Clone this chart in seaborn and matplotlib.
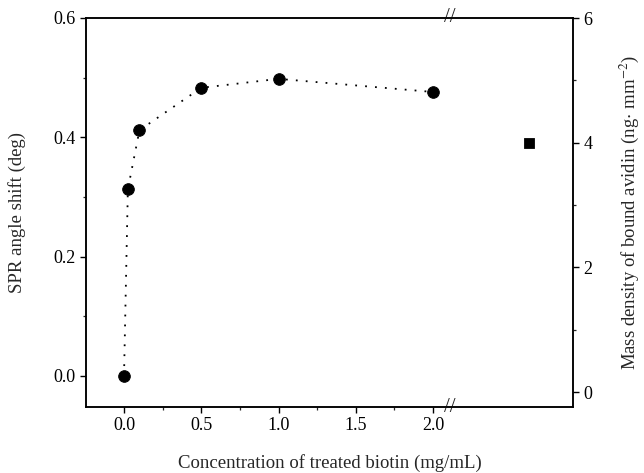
import numpy as np
import pandas as pd
import matplotlib
matplotlib.use("Agg")
import matplotlib.pyplot as plt
import matplotlib.transforms as mtransforms
from matplotlib.ticker import MultipleLocator, FixedLocator
import seaborn as sns

# data
conc = [0.0, 0.025, 0.1, 0.5, 1.0, 2.0]
spr_shift = [0.0, 0.313, 0.412, 0.483, 0.498, 0.476]
square_x = [2.62]
square_mass = [4.0]

x_ticks = [0.0, 0.5, 1.0, 1.5, 2.0]
x_labels = ["0.0", "0.5", "1.0", "1.5", "2.0"]
left_ticks = [0.0, 0.2, 0.4, 0.6]
left_labels = ["0.0", "0.2", "0.4", "0.6"]
right_ticks = [0, 2, 4, 6]

sns.set_style("ticks")
plt.rcParams['font.family'] = ['Liberation Serif', 'DejaVu Serif']
plt.rcParams['mathtext.fontset'] = 'stix'

df = pd.DataFrame({"conc": conc, "shift": spr_shift})
df_sq = pd.DataFrame({"x": square_x, "mass": square_mass})

fig, ax = plt.subplots(figsize=(6.44, 4.73), dpi=100)
fig.subplots_adjust(left=86/644, right=573/644, top=1-18/473, bottom=1-407/473)

sns.lineplot(data=df, x="conc", y="shift", ax=ax, color="black",
             linestyle=(0, (1, 4.5)), linewidth=1.3, sort=False)
sns.scatterplot(data=df, x="conc", y="shift", ax=ax, color="black",
                s=70, edgecolor="black", zorder=5)

ax.set_xlim(-0.246, 2.906)
ax.set_ylim(-0.052, 0.6)
ax.set_xticks(x_ticks)
ax.set_xticklabels(x_labels)
ax.xaxis.set_minor_locator(FixedLocator([0.25, 0.75, 1.25, 1.75]))
ax.set_yticks(left_ticks)
ax.set_yticklabels(left_labels)
ax.yaxis.set_minor_locator(MultipleLocator(0.1))

ax2 = ax.twinx()
sns.scatterplot(data=df_sq, x="x", y="mass", ax=ax2, color="black",
                marker="s", s=55, edgecolor="black")
ax2.set_ylim(-0.24, 6)
ax2.set_yticks(right_ticks)
ax2.yaxis.set_minor_locator(MultipleLocator(1))

for a in (ax, ax2):
    for s in a.spines.values():
        s.set_visible(True)
        s.set_linewidth(1.1)
        s.set_color("black")
    a.tick_params(which="major", direction="out", length=4, width=1, labelsize=13, colors="black")
    a.tick_params(which="minor", direction="out", length=2.5, width=0.9)

ax.tick_params(axis="x", which="both", top=False)
ax.tick_params(axis="y", which="both", right=False)
ax2.tick_params(axis="y", which="both", left=False)

ax.set_xlabel("Concentration of treated biotin (mg/mL)", fontsize=13.5)
ax.set_ylabel("SPR angle shift (deg)", fontsize=13.5)
ax2.set_ylabel("Mass density of bound avidin (ng$\\cdot$ mm$^{-2}$)", fontsize=13.5)
ax.xaxis.set_label_coords(0.5, -0.12)
ax.yaxis.set_label_coords(-0.123, 0.5)
ax2.yaxis.set_label_coords(1.092, 0.5)

# axis break marks on top and bottom spines
trans = mtransforms.blended_transform_factory(ax.transData, ax.transAxes)
for yy in (0, 1):
    ax.text(2.11, yy, "//", transform=trans, ha="center", va="center",
            fontsize=15, clip_on=False, zorder=10)

plt.savefig("out.png", dpi=100)
